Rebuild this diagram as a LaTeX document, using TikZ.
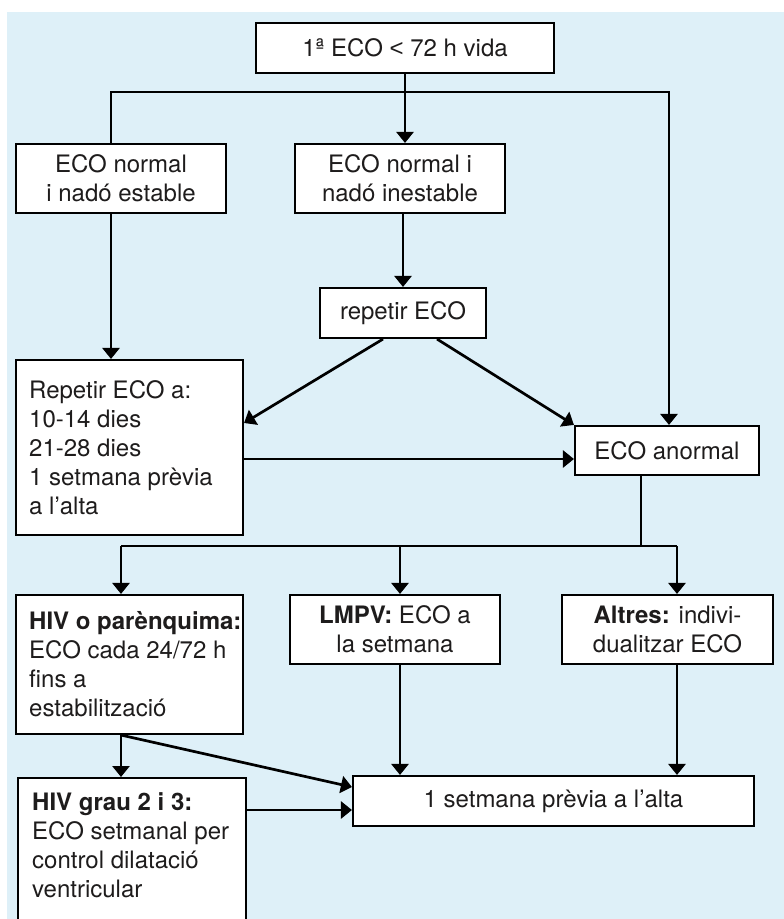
\documentclass[tikz,border=0pt]{standalone}
\usepackage{fontspec}
\setmainfont{TeX Gyre Heros}
\newfontfamily\ltfont{Liberation Sans}
\usetikzlibrary{arrows.meta}

\definecolor{bgc}{RGB}{222,240,248}
\definecolor{txtc}{RGB}{30,28,28}

\tikzset{
  box/.style={draw=black, line width=2.1pt, fill=white, inner sep=0pt,
    text=txtc, font=\fontsize{24}{29}\selectfont, align=center},
  boxtext/.style={text=txtc, font=\fontsize{24}{29}\selectfont, align=left,
    inner sep=0pt, anchor=north west},
  conn/.style={line width=2.7pt, line join=miter, draw=black},
  arr/.style={conn, -{Triangle[width=17pt,length=11pt]}},
}

\begin{document}
\begin{tikzpicture}[x=1pt, y=-1pt]
  \useasboundingbox (0,0) rectangle (784,919);
  \fill[bgc] (7,12) rectangle (784,919);

  % boxes with centred text
  \node[box, minimum width=298, minimum height=50] (top) at (405,48) {1ª ECO {\ltfont<} 72 h vida};
  \node[box, minimum width=210, minimum height=69] (est) at (121,178.5) {ECO normal\\i nadó estable};
  \node[box, minimum width=210, minimum height=69] (inest) at (400,178.5) {ECO normal i\\nadó inestable};
  \node[box, minimum width=166, minimum height=50] (rep) at (403,313) {repetir ECO};
  \node[box, minimum width=184, minimum height=49] (anor) at (667,450.5) {ECO anormal};
  \node[box, minimum width=210, minimum height=69] (lmpv) at (395,629.5) {\textbf{LMPV:} ECO a\\la setmana};
  \node[box, minimum width=211, minimum height=69] (alt) at (667.5,629.5) {\textbf{Altres:} indivi-\\dualitzar ECO};
  \node[box, minimum width=401, minimum height=50] (set) at (553.5,801) {1 setmana prèvia a l’alta};

  % boxes with left-aligned text
  \node[box, minimum width=227, minimum height=175] (repa) at (129.5,447.5) {};
  \node[boxtext] (repatxt) at (29,380)
    {Repetir ECO a:\\10-14 dies\\21-28 dies\\1 setmana prèvia\\a l’alta};
  \node[box, minimum width=227, minimum height=139] (hiv) at (129.5,664.5) {};
  \node[boxtext] (hivtxt) at (29,611.5)
    {\textbf{HIV o parènquima:}\\ECO cada 24/72 h\\fins a\\estabilització};
  \node[box, minimum width=228, minimum height=150, anchor=north] (grau) at (132,777) {};
  \node[boxtext] (grautxt) at (32,792.5)
    {\textbf{HIV grau 2 i 3:}\\ECO setmanal per\\control dilatació\\ventricular};

  % branch points
  \coordinate (bL) at (111,92);
  \coordinate (bR) at (669,92);
  \coordinate (cM) at (641,546);
  \coordinate (cL) at (121,546);
  \coordinate (cC) at (400,546);
  \coordinate (cR) at (677,546);

  % connectors
  \draw[arr] (top.south) -- (top.south |- inest.north);
  \draw[arr] (bL |- est.north) -- (bL) -- (bR) -- (bR |- anor.north);
  \draw[arr] (bL |- est.south) -- (bL |- repa.north);
  \draw[arr] (rep.north |- inest.south) -- (rep.north);
  \draw[arr] (rep.south -| 383,0) -- (repa.east |- 0,423);
  \draw[arr] (rep.south -| 437,0) -- (anor.north west);
  \draw[arr] (repa.east |- 0,459) -- (anor.west |- 0,459);

  \draw[conn] (cM |- anor.south) -- (cM);
  \draw[conn] (cL) -- (cR);
  \draw[arr] (cL) -- (cL |- hiv.north);
  \draw[arr] (cC) -- (cC |- lmpv.north);
  \draw[arr] (cR) -- (cR |- alt.north);

  \draw[arr] (cC |- lmpv.south) -- (cC |- set.north);
  \draw[arr] (cR |- alt.south) -- (cR |- set.north);
  \draw[arr] (cL |- hiv.south) -- (cL |- grau.north);
  \draw[arr] (cL |- hiv.south) -- (set.west |- 0,787);
  \draw[arr] (grau.east |- 0,810) -- (set.west |- 0,810);
\end{tikzpicture}
\end{document}
